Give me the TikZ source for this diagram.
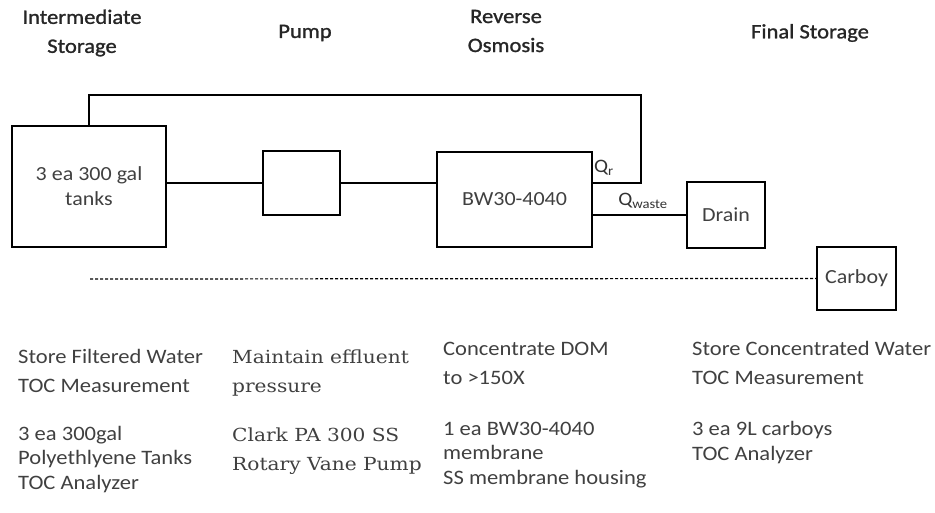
\documentclass[tikz,border=0pt]{standalone}
\usepackage{fontspec}
\setmainfont{Carlito}[FakeStretch=1.1]
\newfontfamily\headfont{Carlito}[FakeStretch=1.1, FakeBold=1.2]
\newfontfamily\bookfont{DejaVu Serif}[FakeStretch=1.12]
\usetikzlibrary{positioning}

\begin{document}
\begin{tikzpicture}[
  x=1pt, y=-1pt,
  unit/.style={rectangle, draw, line width=1.6pt, inner sep=0pt,
               font=\fontsize{20}{25}\selectfont, text=black!75, align=center},
  pipe/.style={line width=1.2pt},
  head/.style={font=\headfont\fontsize{20.5}{29}\selectfont, align=center, text=black!85},
  flow/.style={font=\fontsize{19}{22}\selectfont, text=black!80, inner sep=0pt},
  task/.style={anchor=base west, align=left, inner sep=0pt, text=black!75,
               font=\fontsize{20.5}{29}\selectfont},
  kit/.style={anchor=base west, align=left, inner sep=0pt, text=black!75,
              font=\fontsize{20.5}{24.5}\selectfont},
  serif/.style={font=\bookfont\fontsize{18}{29}\selectfont}
]
\useasboundingbox (0,0) rectangle (935,512);

% column headings
\node[head] (h-is) at (82,33) {Intermediate\\Storage};
\node[head] (h-pu) at (305,33) {Pump};
\node[head] (h-ro) at (506,31) {Reverse\\Osmosis};
\node[head] (h-fs) at (810,33) {Final Storage};

% process units
\node[unit, minimum width=154pt, minimum height=121pt] (tanks) at (89,186.5) {3 ea 300 gal\\tanks};
\node[unit, minimum width=77pt, minimum height=64pt] (pump) at (301.5,183) {};
\node[unit, minimum width=155pt, minimum height=95pt] (ro) at (514.5,199.5) {BW30-4040};
\node[unit, minimum width=78pt, minimum height=66pt] (drain) at (726,215) {Drain};
\node[unit, minimum width=79pt, minimum height=63pt] (carboy) at (856.5,278.5) {Carboy};
\coordinate (loop) at (641,95);
\coordinate (dash) at (90,279);

% piping
\draw[pipe] (tanks.east |- pump.west) -- (pump.west);
\draw[pipe] (pump.east) -- (pump.east -| ro.west);
\draw[pipe] (ro.east |- pump.east) -| (loop) -| (tanks.north);
\draw[pipe] (drain.west -| ro.east) -- (drain.west);
\draw[pipe, densely dashed] (dash) -- (carboy.west);
\node[flow] (qr) at (604,168) {Q\textsubscript{r}};
\node[flow] (qw) at (643,201) {Q\textsubscript{waste}};

% descriptions (anchored at last baseline)
\node[task] (d-is) at (18,392) {Store Filtered Water\\TOC Measurement};
\node[task, serif] (d-pu) at (232,392) {Maintain effluent\\pressure};
\node[task] (d-ro) at (443,384) {Concentrate DOM\\to >150X};
\node[task] (d-fs) at (692,384) {Store Concentrated Water\\TOC Measurement};

\node[kit] (e-is) at (18,489) {3 ea 300gal\\Polyethlyene Tanks\\TOC Analyzer};
\node[kit, serif] (e-pu) at (232,470) {Clark PA 300 SS\\Rotary Vane Pump};
\node[kit] (e-ro) at (443,484) {1 ea BW30-4040\\membrane\\SS membrane housing};
\node[kit] (e-fs) at (692,460) {3 ea 9L carboys\\TOC Analyzer};
\end{tikzpicture}
\end{document}
